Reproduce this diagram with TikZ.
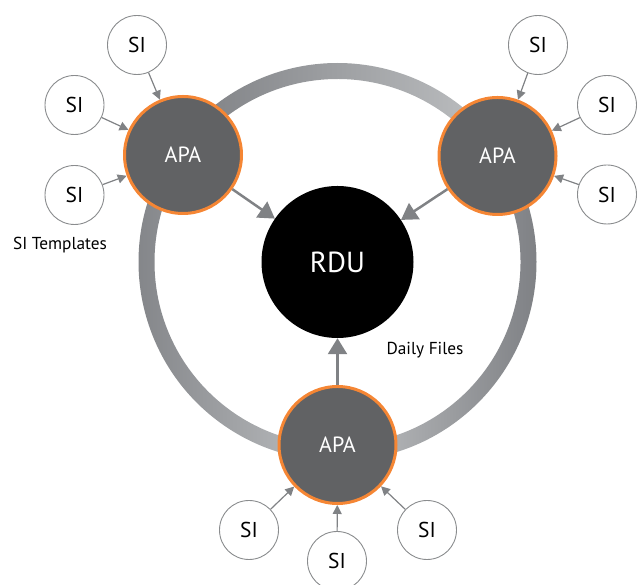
\documentclass[tikz,border=0pt]{standalone}
\usepackage{fontspec}
\setmainfont{PT Sans}
\usetikzlibrary{arrows.meta,calc}
\definecolor{apafill}{HTML}{616264}
\definecolor{apaborder}{HTML}{F58634}
\definecolor{arrowgray}{HTML}{808285}
\definecolor{ringdark}{HTML}{7C7E82}
\definecolor{ringlight}{HTML}{C0C2C4}
\definecolor{siborder}{HTML}{8A8C8E}
\tikzset{
  apanode/.style={circle, fill=apafill, draw=apaborder, line width=3pt, minimum size=117pt, inner sep=0pt, text=white, font=\fontsize{22}{25}\selectfont},
  rdunode/.style={circle, fill=black, minimum size=152pt, inner sep=0pt, text=white, font=\fontsize{29}{32}\selectfont},
  sinode/.style={circle, fill=white, draw=siborder, line width=0.9pt, minimum size=59pt, inner sep=0pt, font=\fontsize{21.5}{24}\selectfont},
  lbl/.style={font=\fontsize{17.3}{20}\selectfont, inner sep=0pt},
  siarrow/.style={draw=arrowgray, line width=1.2pt, -{Triangle[length=9pt,width=9pt]}, arrowgray},
  bigarrow/.style={draw=arrowgray, line width=2.5pt, -{Triangle[length=16pt,width=19pt]}, arrowgray}
}
\begin{document}
\begin{tikzpicture}[x=1pt,y=1pt]
\useasboundingbox (0,0) rectangle (640,585);
\coordinate (C) at (337.5,323);
% ring segments
\shade[left color=ringdark, right color=ringlight]
  ($(C)+(145.3:199pt)$) arc[start angle=145.3, end angle=33.5, radius=199pt]
  -- ($(C)+(33.5:183pt)$) arc[start angle=33.5, end angle=145.3, radius=183pt] -- cycle;
\shade[left color=ringdark, right color=ringlight]
  ($(C)+(145.3:199pt)$) arc[start angle=145.3, end angle=270, radius=199pt]
  -- ($(C)+(270:183pt)$) arc[start angle=270, end angle=145.3, radius=183pt] -- cycle;
\shade[left color=ringlight, right color=ringdark]
  ($(C)+(-90:199pt)$) arc[start angle=-90, end angle=33.5, radius=199pt]
  -- ($(C)+(33.5:183pt)$) arc[start angle=33.5, end angle=-90, radius=183pt] -- cycle;
% main nodes
\node[rdunode] (rdu) at (C) {RDU};
\node[apanode] (apa1) at (183,430) {APA};
\node[apanode] (apa2) at (497.5,429) {APA};
\node[apanode] (apa3) at (337.5,140) {APA};
% SI nodes
\node[sinode] (s1) at (137,540) {SI};
\node[sinode] (s2) at (74.5,480) {SI};
\node[sinode] (s3) at (74.5,390) {SI};
\node[sinode] (s4) at (538,540) {SI};
\node[sinode] (s5) at (607,480) {SI};
\node[sinode] (s6) at (607,390.5) {SI};
\node[sinode] (s7) at (249,55) {SI};
\node[sinode] (s8) at (337,24) {SI};
\node[sinode] (s9) at (427,55) {SI};
% labels
\node[lbl] (tpl) at (60,340) {SI Templates};
\node[lbl] (daily) at (425,235) {Daily Files};
% arrows
\draw[siarrow] (s1) -- (apa1);
\draw[siarrow] (s2) -- (apa1);
\draw[siarrow] (s3) -- (apa1);
\draw[siarrow] (s4) -- (apa2);
\draw[siarrow] (s5) -- (apa2);
\draw[siarrow] (s6) -- (apa2);
\draw[siarrow] (s7) -- (apa3);
\draw[siarrow] (s8) -- (apa3);
\draw[siarrow] (s9) -- (apa3);
\draw[bigarrow] (apa1) -- (rdu);
\draw[bigarrow] (apa2) -- (rdu);
\draw[bigarrow] (apa3) -- (rdu);
\end{tikzpicture}
\end{document}
